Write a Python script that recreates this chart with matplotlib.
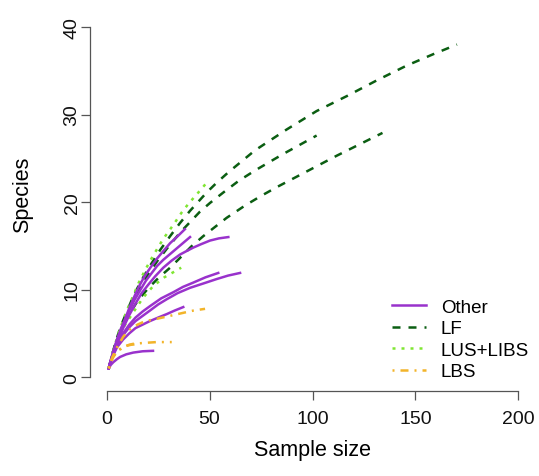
import matplotlib
matplotlib.use("Agg")
import matplotlib.pyplot as plt
from matplotlib.lines import Line2D

# ── data ─────────────────────────────────────────────────────────────────────
# LF (dark green, dashed)
lf1_x = [1, 2, 3, 5, 7, 10, 12.5, 15, 18, 21, 25.9, 30.8, 35.6, 40.5, 48.6, 53.4, 59.1,
         72, 87.5, 102, 116.6, 131.2, 145.8, 158.7, 170.2]
lf1_y = [1, 1.95, 2.85, 4.5, 5.9, 7.6, 9.0, 10.2, 11.5, 12.7, 14.5, 16.1, 17.6, 19.0, 21.1, 22.2, 23.4,
         25.9, 28.3, 30.4, 32.1, 33.9, 35.6, 36.9, 38.0]
lf2_x = [1, 2, 3, 5, 7, 10, 15, 20, 25, 30, 36, 45.3, 50.2, 56.7, 64, 72, 85.8, 102]
lf2_y = [1, 1.95, 2.85, 4.3, 5.6, 7.2, 9.7, 11.7, 13.4, 14.9, 16.6, 18.9, 19.9, 21.1, 22.4, 23.6, 25.5, 27.6]
lf3_x = [1, 2, 3, 5, 7, 10, 15, 20, 25, 30.8, 36.4, 41, 46.9, 53.4, 58.3, 67.2, 75, 82.6,
         97.2, 111.8, 126.3, 134]
lf3_y = [1, 1.9, 2.7, 4.1, 5.3, 6.8, 8.7, 10.1, 11.3, 12.5, 13.8, 14.9, 16.1, 17.3, 18.2, 19.6, 20.7, 21.7,
         23.5, 25.3, 27.0, 27.9]

# LUS+LIBS (light green, dotted)
g1_x = [1, 2, 3, 4, 6, 8, 10.5, 12.9, 15.4, 18.6, 22.6, 27.5, 32.4, 36.4, 39.7, 45.3, 48.9]
g1_y = [1, 1.95, 2.85, 3.7, 5.2, 6.5, 8.0, 9.3, 10.7, 12.2, 13.9, 15.8, 17.4, 18.8, 19.8, 21.3, 22.3]
g2_x = [1, 2, 3, 5, 7, 9, 12.1, 14.6, 17.8, 22.6, 28, 34, 36.2]
g2_y = [1, 1.9, 2.7, 4.0, 5.1, 6.0, 7.1, 8.0, 9.1, 10.4, 11.4, 12.2, 12.5]

# Other (purple, solid)
pa_x = [1, 2, 3, 5, 7, 9, 11.5, 13.8, 16, 18.6, 21.5, 24.3, 27.5, 30.8, 34.5, 38]
pa_y = [1, 1.95, 2.8, 4.3, 5.6, 6.7, 8.2, 9.4, 10.5, 11.6, 12.6, 13.5, 14.4, 15.3, 16.1, 16.9]
pb_x = [1, 2, 3, 5, 7, 10, 13, 16.2, 19, 21.9, 24.5, 27.5, 30.5, 34, 37, 40.5]
pb_y = [1, 1.9, 2.7, 4.2, 5.4, 7.1, 8.6, 9.9, 11.0, 11.9, 12.7, 13.4, 14.0, 14.7, 15.3, 16.0]
pc_x = [1, 2, 3, 5, 8, 11, 14, 17, 20, 23.5, 27.5, 31.5, 35.6, 38.8, 42.1, 46, 50.2, 54.5, 59.1]
pc_y = [1, 1.85, 2.6, 3.9, 5.6, 7.1, 8.4, 9.6, 10.5, 11.5, 12.5, 13.3, 14.0, 14.4, 14.8, 15.2, 15.6, 15.85, 16.0]
pd_x = [1, 2, 3, 5, 8, 11, 14, 17.5, 21, 25, 29.2, 34.5, 40.5, 47, 53.4, 59, 64.8]
pd_y = [1, 1.8, 2.5, 3.6, 4.8, 5.7, 6.4, 7.0, 7.6, 8.3, 8.9, 9.6, 10.2, 10.7, 11.2, 11.6, 11.9]
pe_x = [1, 2, 3, 5, 8, 11, 14, 17.5, 21, 26.5, 32.4, 37, 42.1, 48, 54.2]
pe_y = [1, 1.85, 2.6, 3.8, 5.0, 6.0, 6.8, 7.5, 8.1, 9.0, 9.7, 10.3, 10.8, 11.4, 11.9]
pf_x = [1, 2, 3, 5, 8, 11, 14, 17.5, 21, 25, 29.2, 33, 37.2]
pf_y = [1, 1.8, 2.4, 3.4, 4.3, 5.0, 5.6, 6.0, 6.4, 6.8, 7.2, 7.6, 8.0]
pg_x = [1, 2, 3.2, 5, 6.5, 9.5, 12.9, 17.5, 22.5]
pg_y = [1, 1.4, 1.7, 2.05, 2.3, 2.6, 2.8, 2.95, 3.0]

# LBS (orange, dot-dash)
o1_x = [1, 2, 3, 5, 8, 10.5, 12.9, 15, 17.8, 21, 25.1, 30.8, 36.4, 42.1, 47.8]
o1_y = [1, 1.8, 2.4, 3.4, 4.6, 5.3, 5.7, 6.0, 6.3, 6.5, 6.7, 7.0, 7.3, 7.6, 7.8]
o2_x = [1, 2, 3, 4, 5.5, 7.3, 8.9, 11, 12.9, 17.8, 24.3, 31.6]
o2_y = [1, 1.7, 2.3, 2.7, 3.1, 3.3, 3.5, 3.7, 3.8, 3.9, 4.0, 4.0]
o3_x = [1, 2, 3, 5, 8, 10, 12, 16]
o3_y = [1, 1.7, 2.2, 2.9, 3.4, 3.6, 3.7, 3.8]

x_ticks = [0, 50, 100, 150, 200]
y_ticks = [0, 10, 20, 30, 40]
legend_labels = ["Other", "LF", "LUS+LIBS", "LBS"]

# ── style ────────────────────────────────────────────────────────────────────
PURPLE = "#9932CC"
DKGREEN = "#0B5E12"
LTGREEN = "#80E632"
ORANGE = "#F2B42A"
AXIS_COL = "#555555"

LW = 1.8
LS_OTHER = "-"
LS_LF = (0, (3.2, 3.2))
LS_LUS = (0, (1.2, 2.4))
LS_LBS = (0, (0.8, 2.4, 3.2, 2.4))

plt.rcParams["font.family"] = ["Liberation Sans", "DejaVu Sans"]

fig = plt.figure(figsize=(5.39, 4.77), dpi=100)
ax = fig.add_axes([0.1674, 0.178, 0.8248, 0.7926])

for xs, ys in [(lf1_x, lf1_y), (lf2_x, lf2_y), (lf3_x, lf3_y)]:
    ax.plot(xs, ys, color=DKGREEN, lw=LW, ls=LS_LF)
for xs, ys in [(g1_x, g1_y), (g2_x, g2_y)]:
    ax.plot(xs, ys, color=LTGREEN, lw=LW, ls=LS_LUS)
for xs, ys in [(pa_x, pa_y), (pb_x, pb_y), (pc_x, pc_y), (pd_x, pd_y),
               (pe_x, pe_y), (pf_x, pf_y), (pg_x, pg_y)]:
    ax.plot(xs, ys, color=PURPLE, lw=LW, ls=LS_OTHER)
for xs, ys in [(o1_x, o1_y), (o2_x, o2_y), (o3_x, o3_y)]:
    ax.plot(xs, ys, color=ORANGE, lw=LW, ls=LS_LBS)

ax.set_xlim(-8, 208)
ax.set_ylim(-1.6, 41.6)

# R-style separated axes
for s in ["top", "right"]:
    ax.spines[s].set_visible(False)
ax.spines["left"].set_bounds(0, 40)
ax.spines["bottom"].set_bounds(0, 200)
for s in ["left", "bottom"]:
    ax.spines[s].set_color(AXIS_COL)
    ax.spines[s].set_linewidth(0.9)

ax.set_xticks(x_ticks)
ax.set_yticks(y_ticks)
ax.tick_params(axis="both", direction="out", length=6.5, width=0.9,
               color=AXIS_COL, labelsize=14, labelcolor="#111111")
ax.tick_params(axis="x", pad=7)
ax.tick_params(axis="y", pad=0.5, labelrotation=90)
for lab in ax.get_yticklabels():
    lab.set_va("center")

ax.set_xlabel("Sample size", fontsize=15.5, va="center")
ax.xaxis.set_label_coords(0.5, -0.155)
ax.set_ylabel("Species", fontsize=15.5, va="center", ha="center")
ax.yaxis.set_label_coords(-0.1525, 0.521)

handles = [
    Line2D([], [], color=PURPLE, lw=LW, ls=LS_OTHER),
    Line2D([], [], color=DKGREEN, lw=LW, ls=LS_LF),
    Line2D([], [], color=LTGREEN, lw=LW, ls=LS_LUS),
    Line2D([], [], color=ORANGE, lw=LW, ls=LS_LBS),
]
ax.legend(handles, legend_labels, loc="upper left",
          bbox_to_anchor=(392 / 539, 1 - 299.5 / 477), bbox_transform=fig.transFigure,
          frameon=False, fontsize=13.5, borderpad=0, borderaxespad=0,
          handlelength=1.81, handletextpad=0.8, labelspacing=0.235)

fig.savefig("out.png", dpi=100)
